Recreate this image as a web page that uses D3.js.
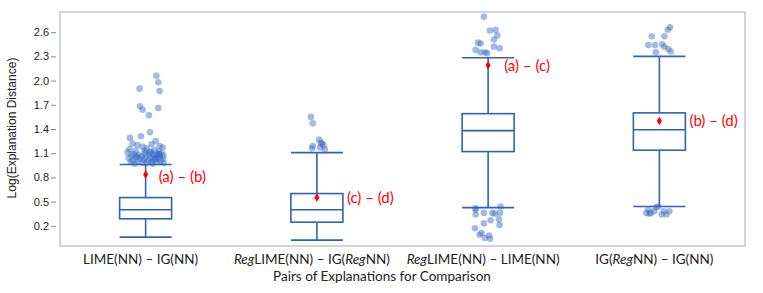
<!DOCTYPE html>
<html>
<head>
<meta charset="utf-8">
<script src="https://cdn.jsdelivr.net/npm/d3@7"></script>
<style>
  body { margin: 0; background: #fff; }
  svg { display: block; }
</style>
</head>
<body>
<svg id="chart" width="763" height="293"></svg>
<script>
// category labels, "*" marks the italic parts
var categories = ["LIME(NN) – IG(NN)", "*Reg*LIME(NN) – IG(*Reg*NN)", "*Reg*LIME(NN) – LIME(NN)", "IG(*Reg*NN) – IG(NN)"];
var whiskerLow  = [0.06, 0.023, 0.426, 0.44];
var q1          = [0.287, 0.245, 1.12, 1.137];
var medians     = [0.40, 0.40, 1.38, 1.39];
var q3          = [0.55, 0.60, 1.59, 1.60];
var whiskerHigh = [0.96, 1.107, 2.283, 2.30];
var means       = [0.835, 0.55, 2.19, 1.50];
var meanLabels  = ["(a) – (b)", "(c) – (d)", "(a) – (c)", "(b) – (d)"];
var yTicks = [0.2, 0.5, 0.8, 1.1, 1.4, 1.7, 2.0, 2.3, 2.6];

// outlier values per group, with their horizontal jitter (box edges = -26 / +26)
var outlierValues = [
  [2.06,1.98,1.87,1.90,1.68,1.64,1.66,1.57,1.36,1.29,1.31,1.25,1.22,1.21,1.20,1.19,1.18,1.17,1.16,1.15,1.14,1.13,1.12,1.12,1.11,1.10,1.10,1.09,1.09,1.08,1.08,1.08,1.07,1.07,1.06,1.06,1.05,1.05,1.05,1.04,1.04,1.03,1.03,1.03,1.02,1.02,1.01,1.01,1.00,1.00,0.99,0.99,0.99,0.98,0.98,0.98,0.97,0.97,1.09,1.08,1.11,1.13,1.06,1.04],
  [1.55,1.47,1.27,1.23,1.22,1.20,1.19,1.17,1.15,1.16],
  [2.79,2.62,2.63,2.56,2.51,2.47,2.46,2.42,2.40,2.38,2.35,2.35,2.34,
   0.42,0.40,0.36,0.36,0.35,0.36,0.44,0.34,0.27,0.28,0.21,0.23,0.17,0.11,0.09,0.05,0.08,0.04],
  [2.66,2.63,2.55,2.55,2.44,2.44,2.45,2.42,2.39,2.36,2.35,
   0.40,0.36,0.36,0.43,0.44,0.38,0.34,0.38,0.38,0.34,0.35]
];
var outlierJitter = [
  [10.7,12.7,14,-6,-5.7,-3,12.7,3.3,4.3,-15.7,-4.7,10,-13,6,-8,14,-3,17,1,-16,9,-10,5,13,-18,-1,16,-12,7,3,11,-7,-14,18,-4,8,14,-10,0,-17,5,12,-6,17,-2,9,-13,3,15,-8,6,-15,11,-3,1,18,-11,7,13,14,4,-1,-9,10],
  [-6,-4,2.3,4,5,6.6,-4,3.3,8,-5],
  [-4.2,1.8,7.5,9.2,5.8,-10.2,-7.5,5.8,11.5,-12.5,-7.5,-3.2,-1,
   -12.5,-12.5,-4.2,4.2,6.8,11.8,12.5,-12.5,2.5,10.8,11.5,-4.2,-13.2,-6.5,-8.5,-3.2,0.8,2],
  [10.7,8.4,5,-7.6,-11,-4.3,3,5,9,11.4,-3.6,
   -11,-8.6,-13,-3.3,-1,-5,2.4,4.5,10,7,-10]
];

var margin = {top: 12, right: 18, bottom: 47, left: 60},
    width = 763 - margin.left - margin.right,
    height = 293 - margin.top - margin.bottom;

var blue = "#2d62bd";
var boxW = 52;

var svg = d3.select("#chart");
var g = svg.append("g").attr("transform", "translate(" + margin.left + "," + margin.top + ")");

var x = d3.scaleBand().domain(d3.range(categories.length)).range([0, width]).padding(0);
var y = d3.scaleLinear().domain([-0.05, 2.85]).range([height, 0]);
var jit = d3.scaleLinear().domain([-26, 26]).range([-boxW / 2, boxW / 2]);

// frame
g.append("rect")
  .attr("x", 0).attr("y", 0)
  .attr("width", width).attr("height", height)
  .attr("fill", "none")
  .attr("stroke", "#b8b8c0")
  .attr("stroke-width", 1.2);

// y axis (set a bit left of the frame)
var yAxis = g.append("g")
  .attr("transform", "translate(-4,0)")
  .call(d3.axisLeft(y).tickValues(yTicks).tickFormat(d3.format(".1f")).tickSize(5).tickPadding(2));
yAxis.select(".domain").remove();
yAxis.selectAll(".tick line").attr("stroke", "#888");
yAxis.selectAll(".tick text")
  .attr("fill", "#222")
  .style("font-family", "Liberation Sans, Arial, sans-serif")
  .style("font-size", "11px");

svg.append("text")
  .attr("transform", "translate(16," + (margin.top + 116) + ") rotate(-90)")
  .attr("text-anchor", "middle")
  .style("font-family", "Liberation Sans, Arial, sans-serif")
  .style("font-size", "12px")
  .attr("fill", "#222")
  .text("Log(Explanation Distance)");

// x labels
categories.forEach(function(c, i) {
  var t = svg.append("text")
    .attr("x", margin.left + x(i) + x.bandwidth() / 2 - 5)
    .attr("y", 264)
    .attr("text-anchor", "middle")
    .style("font-family", "Lato, sans-serif")
    .style("font-size", "13.5px")
    .attr("fill", "#222");
  c.split("*").forEach(function(part, k) {
    if (part === "") return;
    t.append("tspan").text(part).style("font-style", k % 2 === 1 ? "italic" : "normal");
  });
});

svg.append("text")
  .attr("x", 382)
  .attr("y", 281)
  .attr("text-anchor", "middle")
  .style("font-family", "Lato, sans-serif")
  .style("font-size", "13.5px")
  .attr("fill", "#222")
  .text("Pairs of Explanations for Comparison");

// boxes
var groups = g.selectAll(".box")
  .data(d3.range(categories.length))
  .enter().append("g")
  .attr("class", "box")
  .attr("transform", function(i) { return "translate(" + (x(i) + x.bandwidth() / 2) + ",0)"; });

// outliers first so lines sit on top
groups.each(function(i) {
  d3.select(this).selectAll("circle")
    .data(outlierValues[i])
    .enter().append("circle")
    .attr("cx", function(d, k) { return jit(outlierJitter[i][k]); })
    .attr("cy", function(d) { return y(d); })
    .attr("r", 3.3)
    .attr("fill", "#3468c4")
    .attr("fill-opacity", 0.45);
});

function hline(sel, arr) {
  sel.append("line")
    .attr("x1", -boxW / 2).attr("x2", boxW / 2)
    .attr("y1", function(i) { return y(arr[i]); })
    .attr("y2", function(i) { return y(arr[i]); })
    .attr("stroke", blue).attr("stroke-width", 1.6);
}

groups.append("line")
  .attr("x1", 0).attr("x2", 0)
  .attr("y1", function(i) { return y(whiskerLow[i]); })
  .attr("y2", function(i) { return y(q1[i]); })
  .attr("stroke", blue).attr("stroke-width", 1.6);
groups.append("line")
  .attr("x1", 0).attr("x2", 0)
  .attr("y1", function(i) { return y(q3[i]); })
  .attr("y2", function(i) { return y(whiskerHigh[i]); })
  .attr("stroke", blue).attr("stroke-width", 1.6);
hline(groups, whiskerLow);
hline(groups, whiskerHigh);
groups.append("rect")
  .attr("x", -boxW / 2)
  .attr("width", boxW)
  .attr("y", function(i) { return y(q3[i]); })
  .attr("height", function(i) { return y(q1[i]) - y(q3[i]); })
  .attr("fill", "none")
  .attr("stroke", blue).attr("stroke-width", 1.6);
hline(groups, medians);

// mean markers
groups.append("path")
  .attr("d", d3.symbol().type(d3.symbolDiamond).size(22))
  .attr("transform", function(i) { return "translate(0," + y(means[i]) + ")"; })
  .attr("fill", "#ff0000");

var labelShift = [13, 30, 16, 30];
groups.append("text")
  .attr("x", function(i) { return labelShift[i]; })
  .attr("y", function(i) { return y(means[i]) + (i === 0 ? 2 : 0); })
  .attr("dy", "0.35em")
  .style("font-family", "Lato, sans-serif")
  .style("font-size", "15px")
  .attr("fill", "#ff0000")
  .text(function(i) { return meanLabels[i]; });
</script>
</body>
</html>
